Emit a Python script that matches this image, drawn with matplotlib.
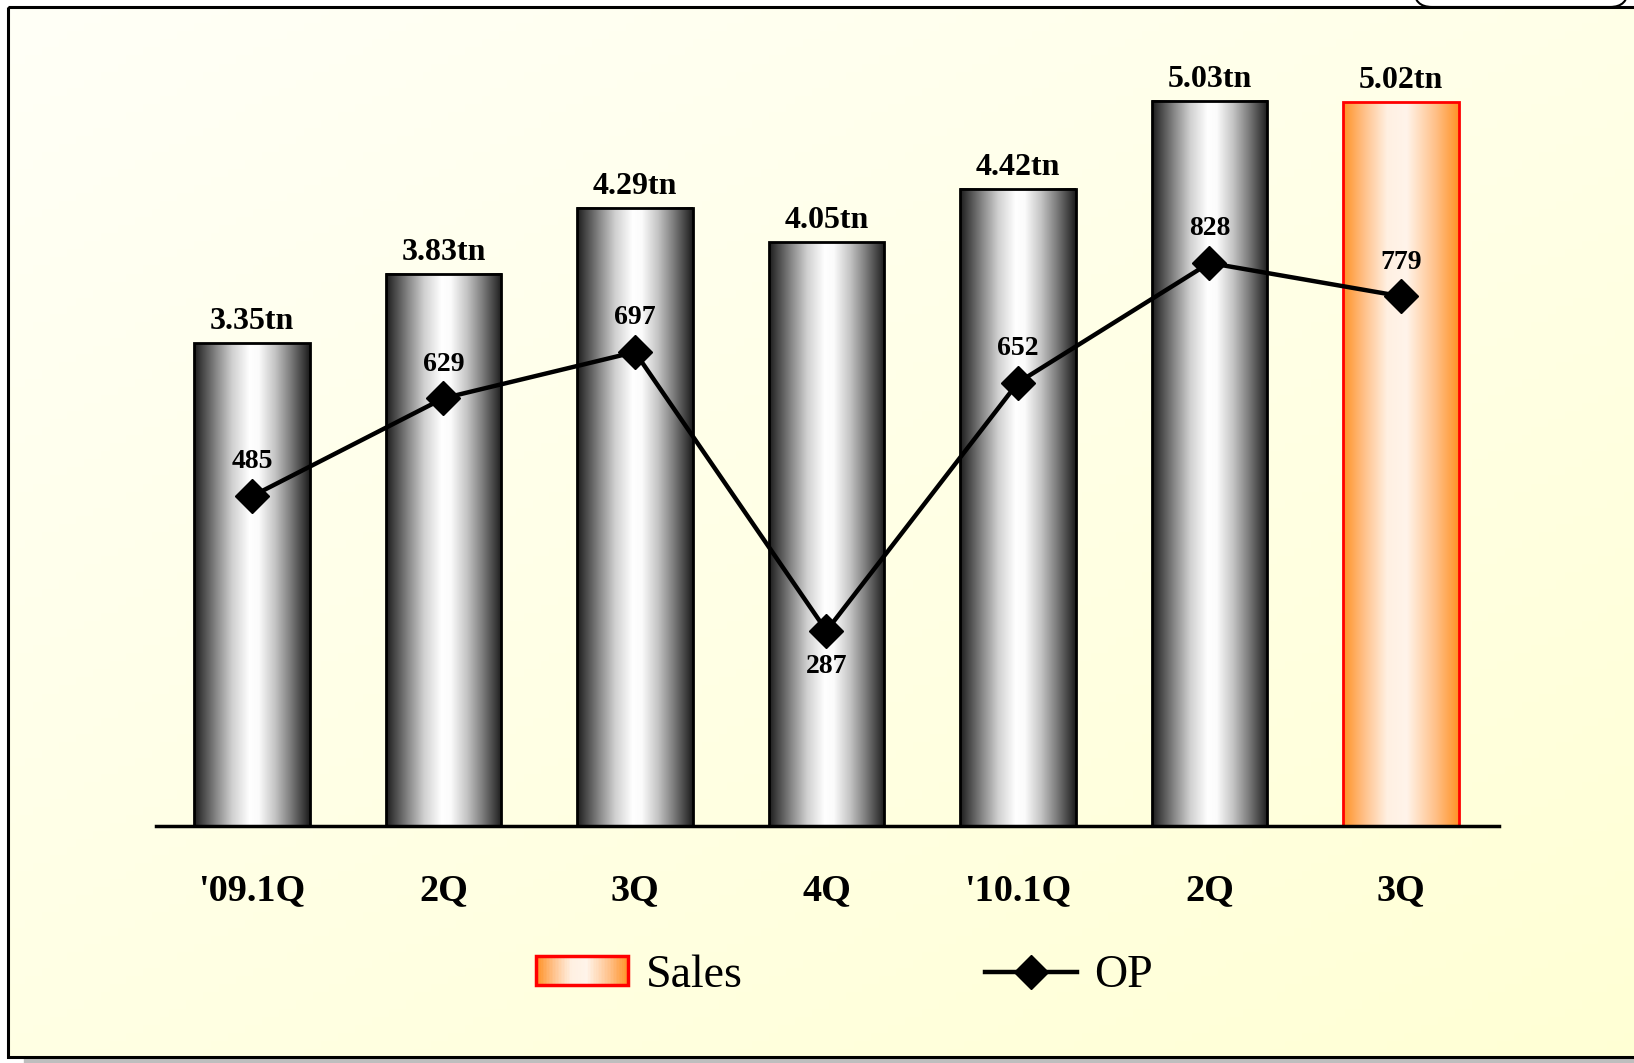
import numpy as np
import matplotlib
matplotlib.use("Agg")
import matplotlib.pyplot as plt
from matplotlib.colors import LinearSegmentedColormap
from matplotlib.patches import Rectangle, FancyBboxPatch
from matplotlib.lines import Line2D
from matplotlib.legend_handler import HandlerBase

plt.rcParams['font.family'] = ['Liberation Serif', 'DejaVu Serif']

# data
quarters = ["'09.1Q", "2Q", "3Q", "4Q", "'10.1Q", "2Q", "3Q"]
sales = [3.35, 3.83, 4.29, 4.05, 4.42, 5.03, 5.02]   # trillion
op = [485, 629, 697, 287, 652, 828, 779]             # billion
highlight = 6   # last quarter drawn in orange

W, H = 1634, 1063
gray_cmap = LinearSegmentedColormap.from_list(
    "cyl", [(0, "#1c1c1c"), (0.08, "#4a4a4a"), (0.2, "#8c8c8c"), (0.33, "#d0d0d0"),
            (0.48, "#ffffff"), (0.56, "#fbfbfb"), (0.7, "#c4c4c4"),
            (0.84, "#7a7a7a"), (0.94, "#404040"), (1, "#1c1c1c")])
orange_cmap = LinearSegmentedColormap.from_list(
    "cyl_or", [(0, "#ff9226"), (0.18, "#ffc088"), (0.38, "#fff0e2"),
               (0.55, "#fff4ea"), (0.8, "#ffc088"), (1, "#ff9226")])


class GradientHandler(HandlerBase):
    # legend swatch made of thin strips so it shows the same gradient as the bar
    def create_artists(self, legend, orig_handle, xdescent, ydescent,
                       width, height, fontsize, trans):
        arts = []
        n = 60
        for i in range(n):
            arts.append(Rectangle((-xdescent + width * i / n, -ydescent),
                                  width / n * 1.1, height,
                                  facecolor=orange_cmap((i + 0.5) / n),
                                  edgecolor='none', transform=trans))
        arts.append(Rectangle((-xdescent, -ydescent), width, height,
                              facecolor='none', edgecolor='red', lw=2.5,
                              transform=trans))
        return arts


fig = plt.figure(figsize=(W / 100, H / 100), dpi=100)
fig.patch.set_facecolor('white')

# background panel with shadow
bg = fig.add_axes([0, 0, 1, 1])
bg.set_xlim(0, W)
bg.set_ylim(H, 0)
bg.axis('off')
bg.add_patch(Rectangle((24, 1057), 1700, 10, color='#bebebe', zorder=0))
gx, gy = np.meshgrid(np.linspace(0, 1, 200), np.linspace(0, 1, 130))
t = 0.45 * gx + 0.55 * gy
c0 = np.array([255, 255, 247]) / 255
c1 = np.array([255, 255, 212]) / 255
img = c0[None, None, :] * (1 - t[..., None]) + c1[None, None, :] * t[..., None]
bg.imshow(img, extent=[8, 1700, 1057, 7], aspect='auto', zorder=1)
bg.add_patch(FancyBboxPatch((1414, -40), 214, 47,
                            boxstyle='round,pad=0,rounding_size=18',
                            fc='white', ec='black', lw=1.5, zorder=2))
bg.add_patch(Rectangle((8, 7), 1700, 1050, fill=False, ec='black', lw=2.2, zorder=3))
bg.set_xlim(0, W)
bg.set_ylim(H, 0)

# main chart
ax = fig.add_axes([156 / W, (H - 826) / H, (1499 - 156) / W, (826 - 60) / H])
ax.set_facecolor('none')
x = np.arange(len(sales))
bars = ax.bar(x, sales, width=0.605, color='none', edgecolor='black',
              linewidth=2, zorder=3)
grad = np.linspace(0, 1, 256)[None, :]
for i, b in enumerate(bars):
    x0, w, h = b.get_x(), b.get_width(), b.get_height()
    cmap = orange_cmap if i == highlight else gray_cmap
    ax.imshow(grad, cmap=cmap, extent=[x0, x0 + w, 0, h], aspect='auto', zorder=2)
    if i == highlight:
        b.set_edgecolor('red')
    ax.annotate(f"{sales[i]:.2f}tn", (b.get_x() + w / 2, h), xytext=(0, 10),
                textcoords='offset points', ha='center', va='baseline',
                fontsize=23, fontweight='bold', zorder=5)

ax.set_xlim(-0.501, 6.512)
ax.set_ylim(0, 766 / 144.15)
for s in ['left', 'right', 'top']:
    ax.spines[s].set_visible(False)
ax.spines['bottom'].set_linewidth(2.5)
ax.spines['bottom'].set_zorder(4)
ax.set_yticks([])
ax.set_xticks(x)
ax.set_xticklabels(quarters, fontsize=27.5, fontweight='bold')
ax.tick_params(axis='x', length=0, pad=34)

ax2 = ax.twinx()
ax2.set_ylim(0, 766 / 0.68)
ax2.axis('off')
ax2.plot(x, op, color='black', lw=3.2, marker='D', ms=17, zorder=6)
for i, v in enumerate(op):
    if i == 3:
        ax2.annotate(str(v), (x[i], v), xytext=(0, -17), textcoords='offset points',
                     ha='center', va='top', fontsize=20, fontweight='bold')
    else:
        ax2.annotate(str(v), (x[i], v), xytext=(0, 20), textcoords='offset points',
                     ha='center', va='baseline', fontsize=20, fontweight='bold')

handles = [Rectangle((0, 0), 1, 1), Line2D([], [], color='black', lw=3.2,
                                           marker='D', ms=17)]
fig.legend(handles, ['Sales', 'OP'], loc='center', bbox_to_anchor=(0.517, 0.082),
           ncol=2, frameon=False, prop={'size': 33}, handlelength=2.0,
           handleheight=0.6, handletextpad=0.38, columnspacing=5.3,
           handler_map={Rectangle: GradientHandler()})

fig.savefig('out.png', dpi=100, facecolor=fig.get_facecolor())
